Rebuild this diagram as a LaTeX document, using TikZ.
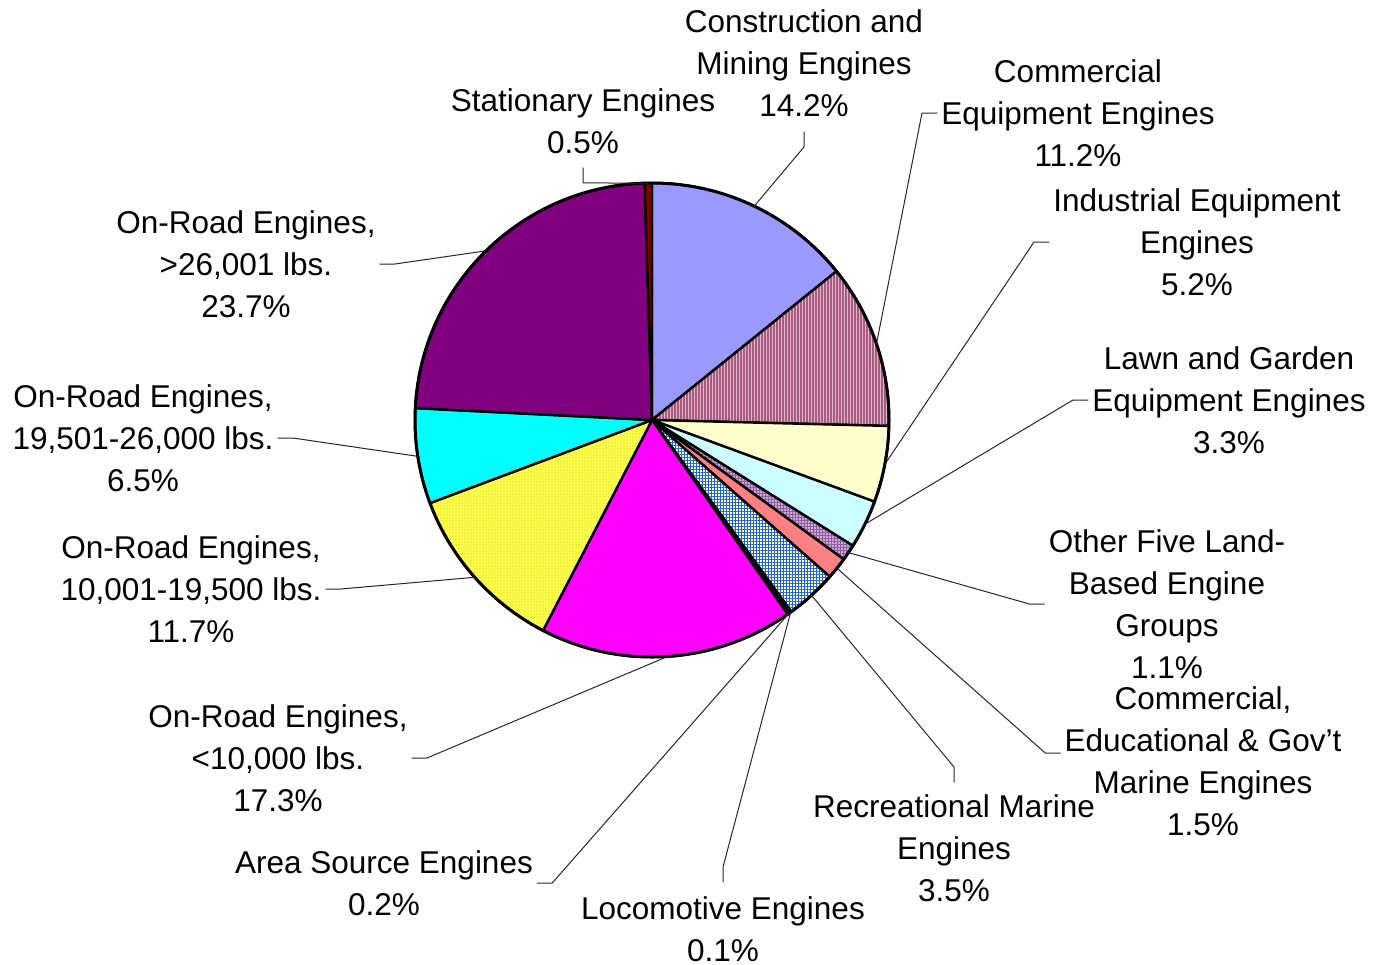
\documentclass[tikz,border=0pt]{standalone}
\usepackage{fontspec}
\setmainfont{Liberation Sans}
\usepackage{tikz}
\usetikzlibrary{patterns.meta}
\definecolor{constr}{HTML}{9999FF}
\definecolor{cebg}{HTML}{E2B6CA}
\definecolor{celine}{HTML}{A85A80}
\definecolor{indus}{HTML}{FFFFCC}
\definecolor{lawn}{HTML}{CCFFFF}
\definecolor{othbg}{HTML}{D0A8D8}
\definecolor{othline}{HTML}{8A5A9E}
\definecolor{cmar}{HTML}{FF8080}
\definecolor{recline}{HTML}{1A62D0}
\definecolor{loco}{HTML}{CCCCFF}
\definecolor{area}{HTML}{9999CC}
\definecolor{orA}{HTML}{FF00FF}
\definecolor{yelbg}{HTML}{FFFF50}
\definecolor{yeldot}{HTML}{D8C800}
\definecolor{orC}{HTML}{00FFFF}
\definecolor{orD}{HTML}{800080}
\definecolor{stat}{HTML}{800000}
\tikzset{
  slice/.style={draw=black,line width=1.2pt},
  rim/.style={draw=black,line width=1.5pt},
  leader/.style={draw=black!85,line width=0.5pt},
  lbl/.style={font=\fontsize{15.75}{21}\selectfont,align=center,inner sep=2pt}
}
\begin{document}
\begin{tikzpicture}[line cap=round,line join=round,x=0.5pt,y=-0.5pt]
\useasboundingbox (0,0) rectangle (1378,965);
\begin{scope}[shift={(652,420)}]
\coordinate (constrrim) at (-64.44:237);
\coordinate (cerim) at (-18.72:237);
\coordinate (indrim) at (10.8:237);
\coordinate (lawnrim) at (26.1:237);
\coordinate (othrim) at (34.02:237);
\coordinate (cmrim) at (38.7:237);
\coordinate (recrim) at (47.7:237);
\coordinate (locorim) at (54.18:237);
\coordinate (arearim) at (54.72:237);
\coordinate (orArim) at (86.22:237);
\coordinate (orBrim) at (138.42:237);
\coordinate (orCrim) at (171.18:237);
\coordinate (orDrim) at (225.54:237);
\coordinate (statrim) at (269.1:237);
\filldraw[slice,fill=constr] (0,0)-- (-90:237) arc[start angle=-90,end angle=-38.88,radius=237]-- cycle;
\draw[slice,preaction={fill=cebg},pattern={Lines[angle=90,distance=1.5pt,line width=0.55pt]},pattern color=celine] (0,0)-- (-38.88:237) arc[start angle=-38.88,end angle=1.44,radius=237]-- cycle;
\filldraw[slice,fill=indus] (0,0)-- (1.44:237) arc[start angle=1.44,end angle=20.16,radius=237]-- cycle;
\filldraw[slice,fill=lawn] (0,0)-- (20.16:237) arc[start angle=20.16,end angle=32.04,radius=237]-- cycle;
\draw[slice,preaction={fill=othbg},pattern={Hatch[angle=0,distance=1.5pt,line width=0.5pt]},pattern color=othline] (0,0)-- (32.04:237) arc[start angle=32.04,end angle=36,radius=237]-- cycle;
\filldraw[slice,fill=cmar] (0,0)-- (36:237) arc[start angle=36,end angle=41.4,radius=237]-- cycle;
\draw[slice,preaction={fill=white},pattern={Hatch[angle=0,distance=1.5pt,line width=0.5pt]},pattern color=recline] (0,0)-- (41.4:237) arc[start angle=41.4,end angle=54,radius=237]-- cycle;
\filldraw[slice,fill=loco] (0,0)-- (54:237) arc[start angle=54,end angle=54.36,radius=237]-- cycle;
\filldraw[slice,fill=area] (0,0)-- (54.36:237) arc[start angle=54.36,end angle=55.08,radius=237]-- cycle;
\filldraw[slice,fill=orA] (0,0)-- (55.08:237) arc[start angle=55.08,end angle=117.36,radius=237]-- cycle;
\draw[slice,preaction={fill=yelbg},pattern={Dots[distance=1.5pt,radius=0.3pt]},pattern color=yeldot] (0,0)-- (117.36:237) arc[start angle=117.36,end angle=159.48,radius=237]-- cycle;
\filldraw[slice,fill=orC] (0,0)-- (159.48:237) arc[start angle=159.48,end angle=182.88,radius=237]-- cycle;
\filldraw[slice,fill=orD] (0,0)-- (182.88:237) arc[start angle=182.88,end angle=268.2,radius=237]-- cycle;
\filldraw[slice,fill=stat] (0,0)-- (268.2:237) arc[start angle=268.2,end angle=270,radius=237]-- cycle;
\draw[rim] (0,0) circle[radius=237];
\end{scope}
\node[lbl] (constrlbl) at (804,63) {Construction and\\Mining Engines\\14.2\%};
\node[lbl] (statlbl) at (583,121) {Stationary Engines\\0.5\%};
\node[lbl] (celbl) at (1078,113) {Commercial\\Equipment Engines\\11.2\%};
\node[lbl] (indlbl) at (1197,242) {Industrial Equipment\\Engines\\5.2\%};
\node[lbl] (lawnlbl) at (1229,400) {Lawn and Garden\\Equipment Engines\\3.3\%};
\node[lbl] (othlbl) at (1167,604) {Other Five Land-\\Based Engine\\Groups\\1.1\%};
\node[lbl] (cmlbl) at (1203,761) {Commercial,\\Educational \& Gov't\\Marine Engines\\1.5\%};
\node[lbl] (reclbl) at (954,848) {Recreational Marine\\Engines\\3.5\%};
\node[lbl] (locolbl) at (723,929) {Locomotive Engines\\0.1\%};
\node[lbl] (arealbl) at (384,883) {Area Source Engines\\0.2\%};
\node[lbl] (orAlbl) at (278,758) {On-Road Engines,\\<10,000 lbs.\\17.3\%};
\node[lbl] (orBlbl) at (191,589) {On-Road Engines,\\10,001-19,500 lbs.\\11.7\%};
\node[lbl] (orClbl) at (143,438) {On-Road Engines,\\19,501-26,000 lbs.\\6.5\%};
\node[lbl] (orDlbl) at (246,264) {On-Road Engines,\\>26,001 lbs.\\23.7\%};
\draw[leader] ([yshift=-5.5pt]constrlbl.south)-- ++(0,15)-- (constrrim);
\draw[leader] ([yshift=-5pt]statlbl.south)-- ++(0,15)-- (statrim);
\draw[leader] (celbl.west)-- ++(-15,0)-- (cerim);
\draw[leader] (indlbl.west)-- ++(-15,0)-- (indrim);
\draw[leader] (lawnlbl.west)-- ++(-15,0)-- (lawnrim);
\draw[leader] (othlbl.west)-- ++(-15,0)-- (othrim);
\draw[leader] ([yshift=4pt]cmlbl.west)-- ++(-15,0)-- (cmrim);
\draw[leader] ([yshift=4pt]reclbl.north)-- ++(0,-15)-- (recrim);
\draw[leader] ([yshift=5pt]locolbl.north)-- ++(0,-15)-- (locorim);
\draw[leader] (arealbl.east)-- ++(15,0)-- (arearim);
\draw[leader] (orAlbl.east)-- ++(15,0)-- (orArim);
\draw[leader] (orBlbl.east)-- ++(15,0)-- (orBrim);
\draw[leader] (orClbl.east)-- ++(15,0)-- (orCrim);
\draw[leader] (orDlbl.east)-- ++(15,0)-- (orDrim);
\end{tikzpicture}
\end{document}
